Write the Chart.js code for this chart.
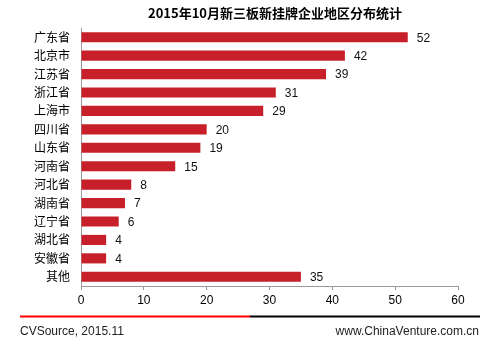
<!DOCTYPE html>
<html>
<head>
<meta charset="utf-8">
<script src="https://cdn.jsdelivr.net/npm/chart.js@4/dist/chart.umd.min.js"></script>
<style>
  html, body { margin: 0; padding: 0; background: #fff; }
  #wrap { width: 490px; height: 349px; position: relative; }
</style>
</head>
<body>
<div id="wrap"><canvas id="myChart" width="490" height="349"></canvas></div>
<script>
const TITULO = '2015年10月新三板新挂牌企业地区分布统计'
const FUENTE = 'CVSource, 2015.11'
const SITIO = 'www.ChinaVenture.com.cn'

const regiones = ['广东省', '北京市', '江苏省', '浙江省', '上海市', '四川省', '山东省', '河南省', '河北省', '湖南省', '辽宁省', '湖北省', '安徽省', '其他']
const cantidades = [52, 42, 39, 31, 29, 20, 19, 15, 8, 7, 6, 4, 4, 35]
const ejeMax = 60
const ejePaso = 10

const FONT_CN = '"Noto Sans CJK SC", "Liberation Sans", Arial, sans-serif'
const FONT_NUM = '"Liberation Sans", Arial, sans-serif'

// etiquetas de valor, titulo y pie
const extras = {
    id: 'extras',
    afterDatasetsDraw(chart) {
        const ctx = chart.ctx
        const meta = chart.getDatasetMeta(0)
        ctx.save()
        ctx.fillStyle = '#111'
        ctx.font = '12px ' + FONT_NUM
        ctx.textBaseline = 'middle'
        ctx.textAlign = 'left'
        meta.data.forEach((bar, i) => {
            ctx.fillText(String(cantidades[i]), bar.x + 9, bar.y + 1)
        })
        ctx.restore()
    },
    afterDraw(chart) {
        const ctx = chart.ctx
        ctx.save()
        ctx.fillStyle = '#000'
        ctx.font = 'bold 13px ' + FONT_CN
        ctx.textAlign = 'center'
        ctx.textBaseline = 'middle'
        ctx.fillText(TITULO, 275, 13)

        ctx.lineWidth = 2
        ctx.strokeStyle = '#FF0000'
        ctx.beginPath()
        ctx.moveTo(20, 316.5)
        ctx.lineTo(250, 316.5)
        ctx.stroke()
        ctx.strokeStyle = '#000'
        ctx.beginPath()
        ctx.moveTo(250, 316.5)
        ctx.lineTo(480, 316.5)
        ctx.stroke()

        ctx.font = '12px ' + FONT_NUM
        ctx.fillStyle = '#222'
        ctx.textAlign = 'left'
        ctx.fillText(FUENTE, 20, 332)
        ctx.textAlign = 'right'
        ctx.fillText(SITIO, 479, 332)
        ctx.restore()
    }
}

var ctx = document.getElementById('myChart')
var myChart = new Chart(ctx, {
    type: 'bar',
    data: {
        labels: regiones,
        datasets: [{
            data: cantidades,
            backgroundColor: '#C8202A',
            borderWidth: 0,
            barPercentage: 0.55,
            categoryPercentage: 1
        }]
    },
    options: {
        indexAxis: 'y',
        responsive: false,
        animation: false,
        layout: { padding: { top: 28, right: 32, bottom: 40, left: 0 } },
        plugins: {
            legend: { display: false },
            tooltip: { enabled: false }
        },
        scales: {
            x: {
                min: 0,
                max: ejeMax,
                afterFit: (scale) => { scale.height = 23 },
                ticks: {
                    stepSize: ejePaso,
                    color: '#000',
                    padding: 3,
                    font: { size: 12, family: FONT_NUM }
                },
                grid: {
                    display: true,
                    drawOnChartArea: false,
                    drawTicks: true,
                    tickLength: 4,
                    color: '#999'
                },
                border: { display: true, color: '#999', width: 1 }
            },
            y: {
                afterFit: (scale) => { scale.width = 81 },
                ticks: {
                    color: '#000',
                    padding: 3,
                    font: { size: 12, family: FONT_CN }
                },
                grid: { display: false },
                border: { display: true, color: '#999', width: 1 }
            }
        }
    },
    plugins: [extras]
})
</script>
</body>
</html>
